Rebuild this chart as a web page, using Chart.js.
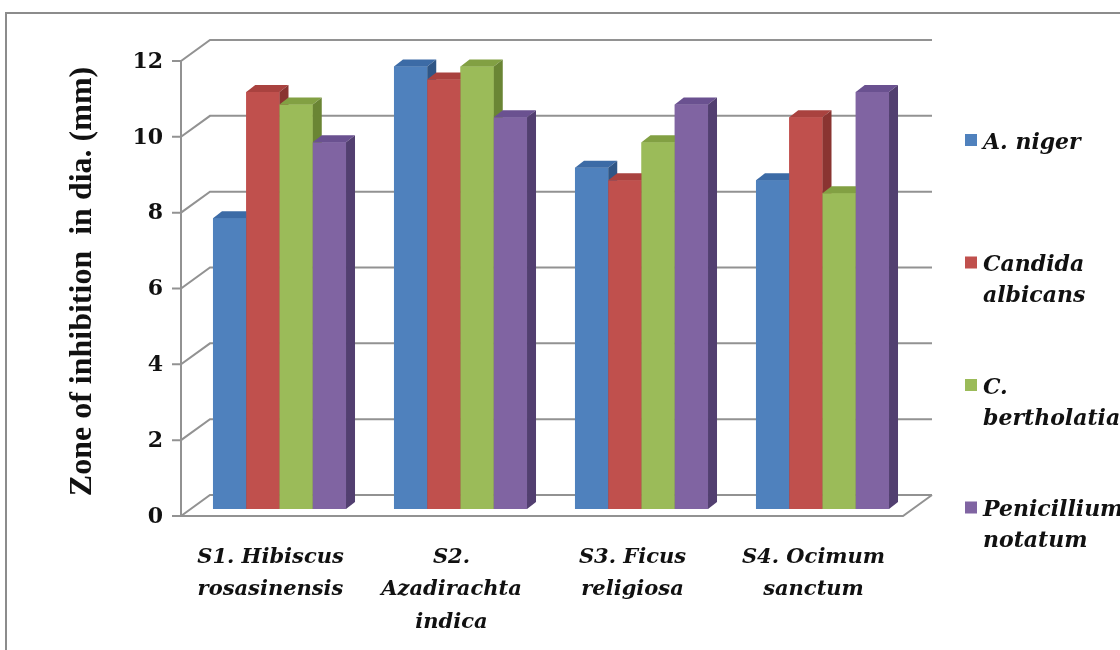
<!DOCTYPE html>
<html>
<head>
<meta charset="utf-8">
<script src="https://cdn.jsdelivr.net/npm/chart.js@4.4.1/dist/chart.umd.min.js"></script>
<style>
  html, body { margin: 0; padding: 0; background: #fff; }
  #wrap { width: 1120px; height: 650px; position: relative; }
</style>
</head>
<body>
<div id="wrap"><canvas id="chart"></canvas></div>
<script>
// Categorías (extractos de plantas)
const categories = [
    ['S1. Hibiscus', 'rosasinensis'],
    ['S2.', 'Azadirachta', 'indica'],
    ['S3. Ficus', 'religiosa'],
    ['S4. Ocimum', 'sanctum']
];

// Series (microorganismos), una línea por renglón de la leyenda
const seriesNames = [
    ['A. niger'],
    ['Candida', 'albicans'],
    ['C.', 'bertholatiae'],
    ['Penicillium', 'notatum']
];

// Zona de inhibición (mm)
const aNiger = [7.67, 11.67, 9.0, 8.67];
const candidaAlbicans = [11.0, 11.33, 8.67, 10.33];
const cBertholatiae = [10.67, 11.67, 9.67, 8.33];
const penicilliumNotatum = [9.67, 10.33, 10.67, 11.0];

const yTicks = [0, 2, 4, 6, 8, 10, 12];

// Colores estilo Excel 2007: frente, cara superior, lateral
const frontColors = ['#4F81BD', '#C0504D', '#9BBB59', '#8064A2'];
const topColors = ['#3C6BA6', '#A9423F', '#82A043', '#6A5190'];
const sideColors = ['#2F5686', '#8A3431', '#6A8534', '#523F70'];

const seriesValues = [aNiger, candidaAlbicans, cBertholatiae, penicilliumNotatum];

const DX = 9, DY = 7;          // profundidad de las barras
const GRID = '#929292';
const TEXT = '#111111';

const excel3d = {
    id: 'excel3d',
    beforeDraw(chart) {
        const ctx = chart.ctx;
        ctx.save();
        ctx.strokeStyle = '#8c8c8c';
        ctx.lineWidth = 2;
        ctx.strokeRect(6, 13, 1300, 800);
        ctx.restore();
    },
    beforeDatasetsDraw(chart) {
        const { ctx, chartArea: a, scales: { y } } = chart;
        const fx = a.left - 8, bx = a.left + 21, ex = a.right + 19;
        ctx.save();
        ctx.strokeStyle = GRID;
        ctx.lineWidth = 2;
        // pared del fondo + marcas del eje
        y.ticks.forEach(t => {
            const py = y.getPixelForValue(t.value);
            ctx.beginPath();
            ctx.moveTo(fx - 9, py + 7);
            ctx.lineTo(fx, py + 7);
            ctx.lineTo(bx, py - 14);
            ctx.lineTo(ex, py - 14);
            ctx.stroke();
        });
        // eje frontal y piso
        const y0 = y.getPixelForValue(0);
        const yTop = y.getPixelForValue(y.max);
        ctx.beginPath();
        ctx.moveTo(fx, yTop + 7);
        ctx.lineTo(fx, y0 + 7);
        ctx.lineTo(a.right - 10, y0 + 7);
        ctx.lineTo(ex, y0 - 14);
        ctx.stroke();
        ctx.restore();
    },
    afterDatasetsDraw(chart) {
        const ctx = chart.ctx;
        const metas = chart.data.datasets.map((d, i) => chart.getDatasetMeta(i));
        ctx.save();
        categories.forEach((c, j) => {
            metas.forEach((meta, i) => {
                const bar = meta.data[j];
                const { x, y, base, width } = bar.getProps(['x', 'y', 'base', 'width'], true);
                const l = x - width / 2, r = x + width / 2;
                ctx.fillStyle = frontColors[i];
                ctx.fillRect(l, y, width, base - y);
                ctx.fillStyle = topColors[i];
                ctx.beginPath();
                ctx.moveTo(l, y);
                ctx.lineTo(l + DX, y - DY);
                ctx.lineTo(r + DX, y - DY);
                ctx.lineTo(r, y);
                ctx.closePath();
                ctx.fill();
                ctx.fillStyle = sideColors[i];
                ctx.beginPath();
                ctx.moveTo(r, y);
                ctx.lineTo(r + DX, y - DY);
                ctx.lineTo(r + DX, base - DY);
                ctx.lineTo(r, base);
                ctx.closePath();
                ctx.fill();
            });
        });
        ctx.restore();
    },
    afterDraw(chart) {
        // leyenda a la derecha
        const ctx = chart.ctx;
        ctx.save();
        ctx.font = 'italic bold 22px "DejaVu Serif"';
        ctx.textBaseline = 'middle';
        ctx.textAlign = 'left';
        chart.data.datasets.forEach((ds, i) => {
            const cy = 140 + i * 122.5;
            ctx.fillStyle = ds.backgroundColor;
            ctx.fillRect(965, cy - 6, 12, 12);
            ctx.fillStyle = TEXT;
            seriesNames[i].forEach((line, k) => {
                ctx.fillText(line, 983, cy + 3 + k * 31);
            });
        });
        ctx.restore();
    }
};

new Chart(document.getElementById('chart'), {
    type: 'bar',
    data: {
        labels: categories,
        datasets: seriesValues.map((vals, i) => ({
            label: seriesNames[i].join(' '),
            data: vals,
            backgroundColor: frontColors[i],
            borderWidth: 0,
            barPercentage: 1.0,
            categoryPercentage: 0.735
        }))
    },
    options: {
        responsive: true,
        maintainAspectRatio: false,
        animation: false,
        layout: {
            padding: { top: 54, right: 207, bottom: 0, left: 0 }
        },
        plugins: {
            legend: { display: false },
            tooltip: { enabled: false }
        },
        scales: {
            x: {
                grid: { display: false, drawTicks: false },
                border: { display: false },
                ticks: {
                    color: TEXT,
                    padding: 32,
                    labelOffset: -9,
                    maxRotation: 0,
                    autoSkip: false,
                    font: { family: 'DejaVu Serif', size: 21, style: 'italic', weight: 'bold', lineHeight: 1.55 }
                },
                afterFit: function(scale) { scale.height = 141; }
            },
            y: {
                min: 0,
                max: 12,
                grid: { display: false, drawTicks: false },
                border: { display: false },
                afterBuildTicks: function(scale) {
                    scale.ticks = yTicks.map(v => ({ value: v }));
                },
                ticks: {
                    color: TEXT,
                    padding: 26,
                    labelOffset: 8,
                    font: { family: 'DejaVu Serif', size: 22, weight: 'bold' }
                },
                title: {
                    display: true,
                    text: 'Zone of inhibition  in dia. (mm)',
                    color: TEXT,
                    padding: { top: 64, bottom: 0 },
                    font: { family: 'Liberation Serif', size: 32, weight: 'bold' }
                },
                afterFit: function(scale) { scale.width = 189; }
            }
        }
    },
    plugins: [excel3d]
});
</script>
</body>
</html>
